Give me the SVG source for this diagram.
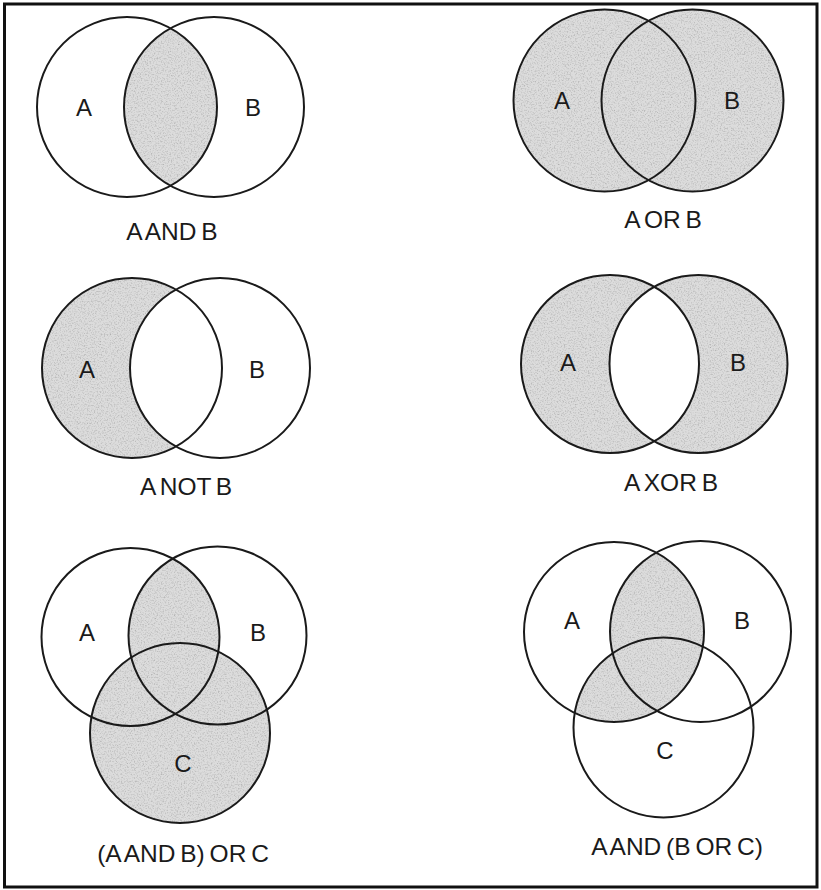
<svg xmlns="http://www.w3.org/2000/svg" width="821" height="890" viewBox="0 0 821 890">
<style>
.ring{fill:none;stroke:#1a1a1a;stroke-width:2}
.shade{fill:#dcdcdc}
.lbl{font-family:"Liberation Sans",Arial,sans-serif;font-size:24px;fill:#1a1a1a;text-anchor:middle}
.cap{font-family:"Liberation Sans",Arial,sans-serif;font-size:24.5px;fill:#1a1a1a;text-anchor:middle;word-spacing:-2px}
</style>
<defs>
<filter id="grain" filterUnits="userSpaceOnUse" x="0" y="0" width="821" height="890">
<feTurbulence type="fractalNoise" baseFrequency="0.7" numOctaves="2" seed="7" result="noise"/>
<feColorMatrix in="noise" type="matrix" values="0 0 0 0 0.3  0 0 0 0 0.3  0 0 0 0 0.3  1.6 0 0 0 -0.75" result="specks"/>
<feComposite in="specks" in2="SourceGraphic" operator="in" result="clipped"/>
<feMerge><feMergeNode in="SourceGraphic"/><feMergeNode in="clipped"/></feMerge>
</filter>
<clipPath id="c1A"><circle cx="127" cy="107" r="90"/></clipPath>
<mask id="m3"><circle cx="132" cy="368" r="90" fill="#fff"/><circle cx="220" cy="368" r="90" fill="#000"/></mask>
<clipPath id="c5A"><circle cx="130.5" cy="637" r="89"/></clipPath>
<clipPath id="c6A"><circle cx="614" cy="632" r="90"/></clipPath>
</defs>
<rect x="4.5" y="4" width="812.5" height="883" fill="#fff" stroke="#111" stroke-width="3"/>

<g id="and">
<g filter="url(#grain)"><circle class="shade" cx="214" cy="107" r="90" clip-path="url(#c1A)"/></g>
<g id="and-A"><circle class="ring" cx="127" cy="107" r="90"/><text class="lbl" x="84" y="116">A</text></g>
<g id="and-B"><circle class="ring" cx="214" cy="107" r="90"/><text class="lbl" x="253" y="116">B</text></g>
<text class="cap" x="172" y="240">A AND B</text>
</g>

<g id="or">
<g filter="url(#grain)"><circle class="shade" cx="604.5" cy="100.5" r="91"/><circle class="shade" cx="692.5" cy="100.5" r="91"/></g>
<g id="or-A"><circle class="ring" cx="604.5" cy="100.5" r="91"/><text class="lbl" x="562" y="109">A</text></g>
<g id="or-B"><circle class="ring" cx="692.5" cy="100.5" r="91"/><text class="lbl" x="732" y="109">B</text></g>
<text class="cap" x="663" y="228">A OR B</text>
</g>

<g id="not">
<g filter="url(#grain)"><rect class="shade" x="30" y="270" width="300" height="200" mask="url(#m3)"/></g>
<g id="not-A"><circle class="ring" cx="132" cy="368" r="90"/><text class="lbl" x="87" y="378">A</text></g>
<g id="not-B"><circle class="ring" cx="220" cy="368" r="90"/><text class="lbl" x="257" y="378">B</text></g>
<text class="cap" x="186" y="495">A NOT B</text>
</g>

<g id="xor">
<g filter="url(#grain)"><path class="shade" fill-rule="evenodd" d="M521,364a89,89 0 1,0 178,0a89,89 0 1,0 -178,0ZM609.5,364a89,89 0 1,0 178,0a89,89 0 1,0 -178,0Z"/></g>
<g id="xor-A"><circle class="ring" cx="610" cy="364" r="89"/><text class="lbl" x="568" y="371">A</text></g>
<g id="xor-B"><circle class="ring" cx="698.5" cy="364" r="89"/><text class="lbl" x="738" y="371">B</text></g>
<text class="cap" x="671" y="491">A XOR B</text>
</g>

<g id="andorc">
<g filter="url(#grain)"><circle class="shade" cx="180" cy="733" r="90"/><circle class="shade" cx="217.5" cy="635.5" r="89" clip-path="url(#c5A)"/></g>
<g id="andorc-A"><circle class="ring" cx="130.5" cy="637" r="89"/><text class="lbl" x="87" y="641">A</text></g>
<g id="andorc-B"><circle class="ring" cx="217.5" cy="635.5" r="89"/><text class="lbl" x="258" y="641">B</text></g>
<g id="andorc-C"><circle class="ring" cx="180" cy="733" r="90"/><text class="lbl" x="183" y="772">C</text></g>
<text class="cap" x="183" y="862">(A AND B) OR C</text>
</g>

<g id="aandborc">
<g filter="url(#grain)" clip-path="url(#c6A)"><circle class="shade" cx="700.5" cy="631.5" r="90.5"/><circle class="shade" cx="663.5" cy="727.5" r="90"/></g>
<g id="aandborc-A"><circle class="ring" cx="614" cy="632" r="90"/><text class="lbl" x="572" y="629">A</text></g>
<g id="aandborc-B"><circle class="ring" cx="700.5" cy="631.5" r="90.5"/><text class="lbl" x="742" y="629">B</text></g>
<g id="aandborc-C"><circle class="ring" cx="663.5" cy="727.5" r="90"/><text class="lbl" x="665" y="759">C</text></g>
<text class="cap" x="677" y="855">A AND (B OR C)</text>
</g>
</svg>
